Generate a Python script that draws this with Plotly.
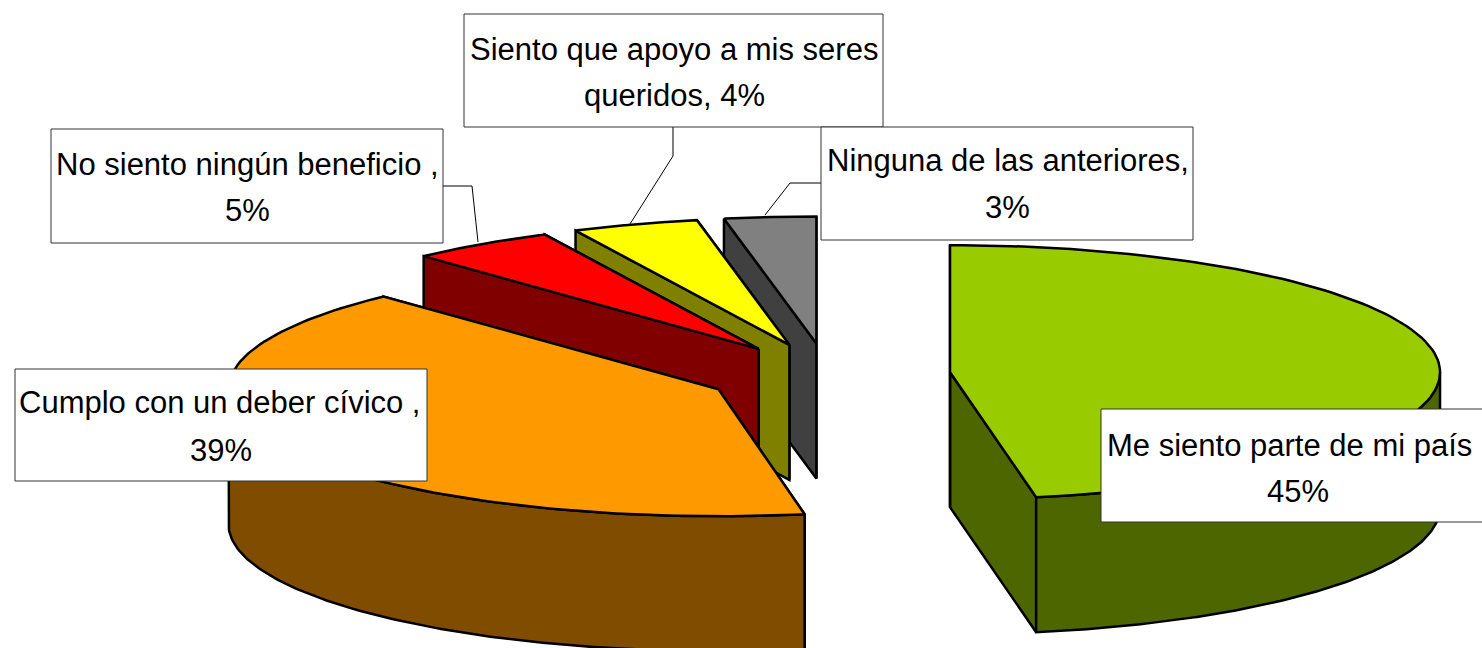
import numpy as np
import plotly.graph_objects as go

categories = ["Me siento parte de mi país", "Cumplo con un deber cívico ", "No siento ningún beneficio ",
              "Siento que apoyo a mis seres queridos", "Ninguna de las anteriores"]
values = [45.3, 39.2, 4.6, 4.0, 2.9]
top_colors = ["#99CC00", "#FF9900", "#FF0000", "#FFFF00", "#808080"]
side_colors = ["#4D6600", "#804D00", "#800000", "#808000", "#404040"]
label_lines = [["Me siento parte de mi país", "45%"], ["Cumplo con un deber cívico ,", "39%"],
               ["No siento ningún beneficio ,", "5%"], ["Siento que apoyo a mis seres", "queridos, 4%"],
               ["Ninguna de las anteriores,", "3%"]]
# box: left, top, right, bottom
label_boxes = [(1101, 409, 1495, 522), (15, 369, 427, 481), (51, 129, 443, 243), (464, 14, 883, 127), (821, 127, 1193, 240)]
# centre x of each text line, centre y of each text line
label_x = [[1289, 1298], [220, 221], [247, 247], [674, 674], [1008, 1007]]
label_y = [[445, 491], [402, 450], [164, 210], [49, 95], [160, 207]]
leaders = {2: [(478, 242), (472, 186), (443, 186)], 3: [(630, 224), (673, 156), (673, 127)], 4: [(765, 215), (790, 183), (821, 183)]}

CX, CY, A, B, DEPTH, EXPLODE = 828, 375, 490, 127, 135, 0.25
FONT = "Liberation Sans, Arial"
FS = 31
LW = 2.5

fracs = np.array(values) / sum(values)
edges = np.concatenate([[0], np.cumsum(fracs)]) * 2 * np.pi

def pt(theta, r=1.0):
    return r * A * np.sin(theta), -r * B * np.cos(theta)

fig = go.Figure()

def poly(xs, ys, fill):
    fig.add_trace(go.Scatter(x=list(xs), y=list(ys), mode="lines", fill="toself", fillcolor=fill,
                             line=dict(color="black", width=LW), hoverinfo="skip", showlegend=False))

for i in [4, 3, 2, 1, 0]:
    t0, t1 = edges[i], edges[i + 1]
    mid = (t0 + t1) / 2
    ox, oy = pt(mid, EXPLODE)
    ox += CX
    oy += CY
    ts = np.linspace(t0, t1, 120)
    ax, ay = pt(ts)
    ax = ax + ox
    ay = ay + oy
    # radial walls: far one first
    for t in (t1, t0):
        ex, ey = pt(t)
        poly([ox, ox + ex, ox + ex, ox, ox], [oy, oy + ey, oy + ey + DEPTH, oy + DEPTH, oy], side_colors[i])
    # outer rim (front half only)
    lo, hi = max(t0, np.pi / 2), min(t1, 3 * np.pi / 2)
    if hi > lo:
        rs = np.linspace(lo, hi, 120)
        rx, ry = pt(rs)
        rx = rx + ox
        ry = ry + oy
        poly(np.concatenate([rx, rx[::-1], rx[:1]]), np.concatenate([ry, ry[::-1] + DEPTH, ry[:1]]), side_colors[i])
    poly(np.concatenate([[ox], ax, [ox]]), np.concatenate([[oy], ay, [oy]]), top_colors[i])

for i, pts in leaders.items():
    fig.add_trace(go.Scatter(x=[p[0] for p in pts], y=[p[1] for p in pts], mode="lines",
                             line=dict(color="black", width=1), hoverinfo="skip", showlegend=False))

for i, (l, t, r, b) in enumerate(label_boxes):
    fig.add_shape(type="rect", x0=l, x1=r, y0=t, y1=b, xref="x", yref="y", fillcolor="white",
                  line=dict(color="#333333", width=1), layer="above")
    for k, line in enumerate(label_lines[i]):
        fig.add_annotation(x=label_x[i][k], y=label_y[i][k], text=line, showarrow=False, xref="x", yref="y",
                           font=dict(family=FONT, size=FS, color="black"), xanchor="center", yanchor="middle")

fig.update_layout(width=1482, height=648, margin=dict(l=0, r=0, t=0, b=0), paper_bgcolor="white", plot_bgcolor="white",
                  xaxis=dict(range=[0, 1482], visible=False, fixedrange=True),
                  yaxis=dict(range=[648, 0], visible=False, fixedrange=True), showlegend=False)
fig.write_html("out.html", config={"displayModeBar": False},
               post_script="document.body.style.margin='0';document.body.style.overflow='hidden';")
